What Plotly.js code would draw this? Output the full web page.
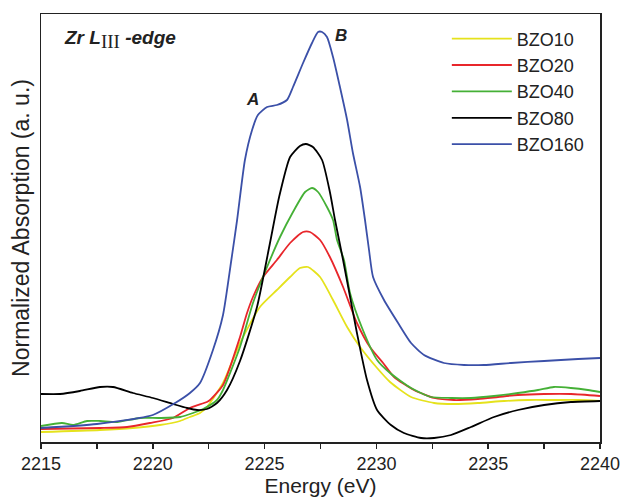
<!DOCTYPE html>
<html>
<head>
<meta charset="utf-8">
<script src="https://cdn.plot.ly/plotly-3.0.1.min.js"></script>
<style>html,body{margin:0;padding:0;background:#fff;}#chart{width:622px;height:498px;}</style>
</head>
<body>
<div id="chart"></div>
<script>
// Energy (eV) and normalized absorption (a.u.)
const seriesNames = ["BZO10", "BZO20", "BZO40", "BZO80", "BZO160"];
const seriesColors = ["#e5e21c", "#e8262b", "#45b036", "#000000", "#3b50a8"];

const bzo10E = [2215, 2217.64, 2219.11, 2220.32, 2221.22, 2221.66, 2222.11, 2222.42, 2223.14, 2223.90, 2224.79, 2225.55, 2226.14, 2226.58, 2226.94, 2227.48, 2228.06, 2228.69, 2229.27, 2230.03, 2230.61, 2231.55, 2232.58, 2233.47, 2234.54, 2235.71, 2236.78, 2237.94, 2239.02, 2240];
const bzo10Y = [0.10, 0.12, 0.14, 0.17, 0.21, 0.25, 0.29, 0.35, 0.59, 0.99, 1.35, 1.52, 1.65, 1.74, 1.75, 1.65, 1.42, 1.15, 0.95, 0.74, 0.60, 0.45, 0.39, 0.38, 0.39, 0.41, 0.42, 0.42, 0.42, 0.41];

const bzo20E = [2215, 2217.64, 2218.85, 2219.87, 2220.90, 2221.66, 2222.42, 2222.56, 2223.14, 2223.90, 2224.20, 2224.48, 2224.93, 2225.55, 2226.14, 2226.72, 2227.03, 2227.48, 2227.92, 2228.51, 2229.13, 2229.71, 2230.30, 2230.79, 2231.68, 2232.58, 2233.47, 2234.54, 2235.44, 2236.33, 2237.50, 2238.70, 2240];
const bzo20Y = [0.13, 0.14, 0.15, 0.19, 0.24, 0.34, 0.40, 0.42, 0.57, 1.05, 1.28, 1.45, 1.65, 1.82, 1.99, 2.10, 2.10, 2.02, 1.85, 1.55, 1.19, 0.95, 0.79, 0.65, 0.52, 0.44, 0.42, 0.43, 0.45, 0.47, 0.48, 0.48, 0.46];

const bzo40E = [2215, 2215.94, 2216.43, 2217.06, 2217.64, 2218.40, 2219.43, 2220.32, 2221.22, 2221.80, 2222.25, 2222.87, 2223.14, 2223.90, 2224.48, 2225.11, 2225.69, 2226.27, 2226.81, 2227.12, 2227.39, 2227.79, 2228.06, 2228.24, 2228.55, 2228.82, 2229.36, 2230.03, 2230.61, 2231.55, 2232.44, 2233.34, 2234.23, 2235.26, 2236.33, 2237.23, 2237.94, 2238.70, 2239.46, 2240];
const bzo40Y = [0.16, 0.19, 0.17, 0.21, 0.21, 0.20, 0.24, 0.24, 0.25, 0.29, 0.33, 0.42, 0.52, 0.95, 1.39, 1.75, 2.05, 2.30, 2.50, 2.54, 2.50, 2.35, 2.22, 2.02, 1.82, 1.49, 1.14, 0.82, 0.69, 0.54, 0.45, 0.44, 0.44, 0.46, 0.49, 0.52, 0.55, 0.54, 0.52, 0.50];

const bzo80E = [2215, 2215.85, 2216.74, 2217.64, 2218.22, 2219.11, 2220.01, 2220.90, 2221.53, 2221.98, 2222.42, 2222.87, 2223.32, 2223.90, 2224.66, 2225.24, 2225.65, 2226.14, 2226.58, 2226.85, 2227.16, 2227.57, 2227.92, 2228.15, 2228.51, 2229.13, 2229.58, 2230.03, 2230.65, 2231.23, 2232.00, 2232.58, 2233.34, 2234.23, 2235.26, 2236.33, 2237.50, 2238.70, 2240];
const bzo80Y = [0.48, 0.48, 0.51, 0.55, 0.55, 0.49, 0.44, 0.38, 0.34, 0.32, 0.33, 0.39, 0.52, 0.81, 1.35, 1.99, 2.45, 2.85, 2.96, 2.98, 2.95, 2.82, 2.50, 2.22, 1.82, 1.09, 0.62, 0.32, 0.17, 0.09, 0.04, 0.04, 0.07, 0.15, 0.25, 0.32, 0.37, 0.40, 0.41];

const bzo160E = [2215, 2217.50, 2220.00, 2221.00, 2221.66, 2222.11, 2222.69, 2223.14, 2223.50, 2223.77, 2224.12, 2224.44, 2224.70, 2225.11, 2225.55, 2226.00, 2226.27, 2226.72, 2227.12, 2227.39, 2227.57, 2227.79, 2228.06, 2228.37, 2228.69, 2228.95, 2229.27, 2229.49, 2229.67, 2229.85, 2230.34, 2230.97, 2231.55, 2232.13, 2233.02, 2233.92, 2234.81, 2236.02, 2237.50, 2239.02, 2240];
const bzo160Y = [0.14, 0.18, 0.27, 0.39, 0.49, 0.59, 0.92, 1.27, 1.80, 2.22, 2.82, 3.12, 3.27, 3.35, 3.37, 3.42, 3.55, 3.79, 3.99, 4.10, 4.10, 4.05, 3.85, 3.55, 3.22, 2.89, 2.55, 2.22, 1.92, 1.65, 1.42, 1.19, 0.99, 0.87, 0.79, 0.77, 0.77, 0.79, 0.81, 0.83, 0.84];

const xTickVals = [2215, 2220, 2225, 2230, 2235, 2240];
const xTickText = ["2215", "2220", "2225", "2230", "2235", "2240"];

const labelA = {text: "A", x: 2224.44, y: 3.43};
const labelB = {text: "B", x: 2228.42, y: 4.07};

const xs = [bzo10E, bzo20E, bzo40E, bzo80E, bzo160E];
const ys = [bzo10Y, bzo20Y, bzo40Y, bzo80Y, bzo160Y];

const traces = seriesNames.map((n, i) => ({
  type: "scatter", mode: "lines", name: n,
  x: xs[i], y: ys[i],
  line: {color: seriesColors[i], width: 1.8, shape: "spline", smoothing: 0.6}
}));

const font = "Liberation Sans, Arial, sans-serif";
const layout = {
  width: 622, height: 498,
  margin: {l: 41, r: 22, t: 14, b: 56},
  paper_bgcolor: "#fff", plot_bgcolor: "#fff",
  font: {family: font, color: "#222"},
  showlegend: true,
  legend: {
    x: 0.726, y: 0.985, xanchor: "left", yanchor: "top",
    bgcolor: "rgba(0,0,0,0)", font: {size: 18, family: font, color: "#222"},
    tracegroupgap: 0, itemwidth: 60
  },
  xaxis: {
    range: [2215, 2240], tickmode: "array", tickvals: xTickVals, ticktext: xTickText,
    ticks: "outside", ticklen: 5, tickwidth: 1.5, tickcolor: "#222",
    minor: {dtick: 2.5, tick0: 2215, ticks: "outside", ticklen: 5, tickwidth: 1.5, tickcolor: "#222", showgrid: false},
    showline: true, linecolor: "#222", linewidth: 1.5, mirror: true,
    showgrid: false, zeroline: false,
    tickfont: {size: 18, family: font, color: "#222"},
    title: {text: "Energy (eV)", font: {size: 21, family: font, color: "#222"}, standoff: 3}
  },
  yaxis: {
    range: [0, 4.28], showticklabels: false, ticks: "",
    showline: true, linecolor: "#222", linewidth: 1.5, mirror: true,
    showgrid: false, zeroline: false,
    title: {text: "Normalized Absorption (a. u.)", font: {size: 23, family: font, color: "#222"}, standoff: 3}
  },
  annotations: [
    {xref: "paper", yref: "paper", x: 0.037, y: 0.94, xanchor: "left", yanchor: "middle", showarrow: false,
     text: "<b><i>Zr L</i></b><sub><span style=\"font-family:Liberation Serif;font-size:19px\">III</span></sub><b><i> -edge</i></b>",
     font: {size: 19, family: font, color: "#222"}},
    {x: labelA.x, y: labelA.y, text: "<b><i>" + labelA.text + "</i></b>", showarrow: false,
     font: {size: 17, family: font, color: "#222"}},
    {x: labelB.x, y: labelB.y, text: "<b><i>" + labelB.text + "</i></b>", showarrow: false,
     font: {size: 17, family: font, color: "#222"}}
  ]
};

Plotly.newPlot("chart", traces, layout, {displayModeBar: false, staticPlot: true});
</script>
</body>
</html>
